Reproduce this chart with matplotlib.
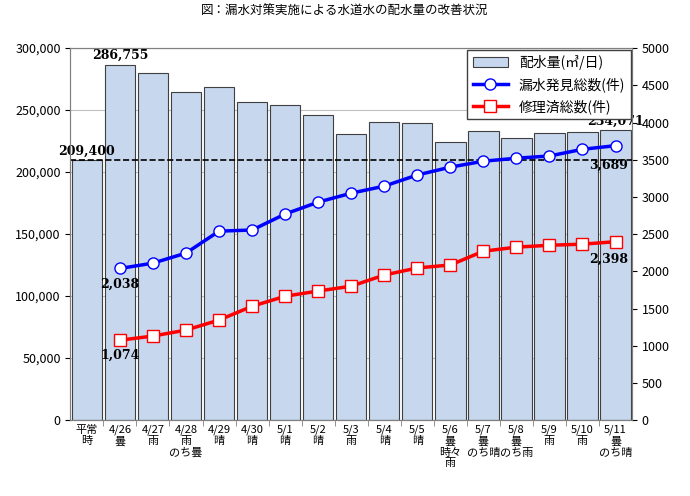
import matplotlib
matplotlib.use("Agg")
import matplotlib.pyplot as plt

plt.rcParams["font.family"] = "Noto Sans CJK JP"

labels = ["平常\n時", "4/26\n曇", "4/27\n雨", "4/28\n雨\nのち曇", "4/29\n晴", "4/30\n晴",
          "5/1\n晴", "5/2\n晴", "5/3\n雨", "5/4\n晴", "5/5\n晴", "5/6\n曇\n時々\n雨",
          "5/7\n曇\nのち晴", "5/8\n曇\nのち雨", "5/9\n雨", "5/10\n雨", "5/11\n曇\nのち晴"]
supply = [209400, 286755, 280000, 264500, 269000, 256500, 254000, 246000, 230500,
          240500, 239500, 224000, 233000, 227500, 231500, 232000, 234071]
found = [2038, 2110, 2245, 2540, 2555, 2770, 2930, 3050, 3145, 3295, 3400, 3480,
         3520, 3550, 3640, 3689]
repaired = [1074, 1130, 1210, 1345, 1530, 1665, 1735, 1800, 1950, 2045, 2085, 2270,
            2325, 2350, 2365, 2398]

fig = plt.figure(figsize=(6.9, 4.96), dpi=100)
ax = fig.add_axes([0.102, 0.153, 0.814, 0.75])
ax2 = ax.twinx()
x = list(range(len(labels)))
bars = ax.bar(x, supply, width=0.92, color="#c6d7ee", edgecolor="#404040", linewidth=0.8,
              label="配水量(㎥/日)", zorder=2)
ax.axhline(supply[0], color="black", ls="--", lw=1.2, zorder=3)
ax.set_ylim(0, 300000)
ax.set_xlim(-0.5, len(labels) - 0.5)
ax.set_yticks(range(0, 300001, 50000))
ax.set_yticklabels([f"{v:,}" for v in range(0, 300001, 50000)], fontsize=9)
ax.set_xticks(x)
ax.set_xticklabels(labels, fontsize=8, linespacing=1.1)
ax.set_xticks([i - 0.5 for i in range(1, len(labels))], minor=True)
ax.tick_params(axis="x", which="major", length=0)
ax.tick_params(axis="x", which="minor", length=4, color="#808080")
ax.grid(axis="y", color="#c0c0c0", lw=0.8, zorder=0)
ax.set_axisbelow(True)
for a in (ax, ax2):
    for s in a.spines.values():
        s.set_color("#808080")

xl = x[1:]
l1, = ax2.plot(xl, found, color="blue", lw=2.5, marker="o", ms=8, mfc="white",
               mec="blue", label="漏水発見総数(件)", zorder=4)
l2, = ax2.plot(xl, repaired, color="red", lw=2.5, marker="s", ms=8, mfc="white",
               mec="red", label="修理済総数(件)", zorder=4)
ax2.set_ylim(0, 5000)
ax2.set_yticks(range(0, 5001, 500))
ax2.tick_params(labelsize=9)

bold = dict(fontsize=9, fontweight="bold", family="DejaVu Serif")
ax.text(0, supply[0] + 2000, f"{supply[0]:,}", ha="center", va="bottom", **bold)
ax.text(1, supply[1] + 2000, f"{supply[1]:,}", ha="center", va="bottom", **bold)
ax.text(16, supply[16] + 2000, f"{supply[16]:,}", ha="center", va="bottom", **bold)
ax2.text(1, found[0] - 120, f"{found[0]:,}", ha="center", va="top", **bold)
ax2.text(1, repaired[0] - 120, f"{repaired[0]:,}", ha="center", va="top", **bold)
ax2.text(15.8, found[-1] - 180, f"{found[-1]:,}", ha="center", va="top", **bold)
ax2.text(15.8, repaired[-1] - 150, f"{repaired[-1]:,}", ha="center", va="top", **bold)

leg = ax2.legend([bars, l1, l2], [bars.get_label(), l1.get_label(), l2.get_label()],
                 loc="upper right", fontsize=10, fancybox=False, edgecolor="#404040",
                 framealpha=1, borderaxespad=0.1, handlelength=2.5)
leg.set_zorder(10)

fig.suptitle("図：漏水対策実施による水道水の配水量の改善状況", y=0.99, fontsize=9)
fig.savefig("out.png")
